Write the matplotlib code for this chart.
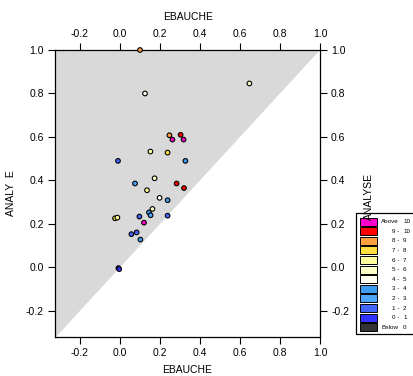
import numpy as np
import matplotlib
matplotlib.use("Agg")
from matplotlib import pyplot as plt
from matplotlib.patches import Rectangle

plt.rcParams["font.family"] = ["Liberation Sans", "DejaVu Sans"]

# legend classes, top to bottom
class_left = ["Above", "9 -", "8 -", "7 -", "6 -", "5 -", "4 -", "3 -", "2 -", "1 -", "0 -", "Below"]
class_right = ["10", "10", "9", "8", "7", "6", "5", "4", "3", "2", "1", "0"]
class_colors = ["#FF00CC", "#FF0000", "#FFA040", "#FFE040", "#FFFFA0", "#FFFFC8",
                "#FFFFF2", "#3C9CF0", "#4DA6FF", "#4466FF", "#3333FF", "#333333"]

# points: EBAUCHE, ANALYSE, class index
ebauche = [0.10, 0.125, 0.647, 0.247, 0.262, 0.303, 0.318, 0.152, 0.238, -0.010,
           0.327, 0.173, 0.075, 0.283, 0.320, 0.135, 0.198, 0.238, 0.162, 0.145,
           0.153, 0.097, 0.238, 0.120, -0.025, -0.013, 0.083, 0.057, 0.102, -0.008, -0.004]
analyse = [1.00, 0.80, 0.846, 0.608, 0.588, 0.610, 0.588, 0.533, 0.528, 0.490,
           0.490, 0.410, 0.386, 0.386, 0.365, 0.355, 0.320, 0.309, 0.269, 0.253,
           0.240, 0.234, 0.238, 0.206, 0.226, 0.229, 0.161, 0.153, 0.128, -0.003, -0.008]
klass = [2, 6, 5, 2, 0, 1, 0, 4, 3, 9,
         7, 5, 8, 1, 1, 4, 6, 7, 5, 7,
         8, 9, 9, 0, 3, 4, 9, 9, 7, 10, 10]

xticks = [-0.2, 0.0, 0.2, 0.4, 0.6, 0.8, 1.0]
lo, hi = -0.325, 1.0

W, H = 413, 376
fig = plt.figure(figsize=(W / 100, H / 100), dpi=100)
ax = fig.add_axes([55 / W, 1 - 337 / H, 265 / W, 287 / H])

# shaded region above diagonal
ax.fill([lo, lo, hi], [lo, hi, hi], color="#D9D9D9", lw=0, zorder=0)

cols = [class_colors[k] for k in klass]
ax.scatter(ebauche, analyse, s=11, c=cols, edgecolors="black", linewidths=0.8, zorder=3, clip_on=False)

ax.set_xlim(lo, hi)
ax.set_ylim(-0.32, hi)
ax.set_xticks(xticks)
ax.set_yticks([-0.2, 0.0, 0.2, 0.4, 0.6, 0.8, 1.0])
ax.xaxis.set_major_formatter(matplotlib.ticker.FormatStrFormatter("%.1f"))
ax.yaxis.set_major_formatter(matplotlib.ticker.FormatStrFormatter("%.1f"))
ax.tick_params(direction="out", length=5, width=0.8, labelsize=7.5, pad=3,
               top=True, labeltop=True, right=True, labelright=True)
for s in ax.spines.values():
    s.set_linewidth(0.9)

ax.set_xlabel("EBAUCHE", fontsize=7.5, labelpad=5)
ax.set_ylabel("ANALY  E", fontsize=7.5, labelpad=7)
fig.text(188 / W, 1 - 17 / H, "EBAUCHE", fontsize=7.5, ha="center", va="center")
fig.text(369 / W, 1 - 197 / H, "ANALYSE", fontsize=7.5, ha="center", va="center", rotation=90)

# legend box
lax = fig.add_axes([0, 0, 1, 1])
lax.set_xlim(0, W)
lax.set_ylim(H, 0)
lax.axis("off")
lax.add_patch(Rectangle((356, 213), 70, 121, facecolor="white", edgecolor="black", lw=0.9, clip_on=False))
for i in range(len(class_left)):
    y0 = 217.5 + i * 9.6
    lax.add_patch(Rectangle((360, y0), 16.5, 8, facecolor=class_colors[i], edgecolor="black", lw=0.7))
    lax.text(399, y0 + 4.2, class_left[i], fontsize=4.5, ha="right", va="center")
    lax.text(403, y0 + 4.2, class_right[i], fontsize=4.5, ha="left", va="center")

fig.savefig("out.png", dpi=100)
